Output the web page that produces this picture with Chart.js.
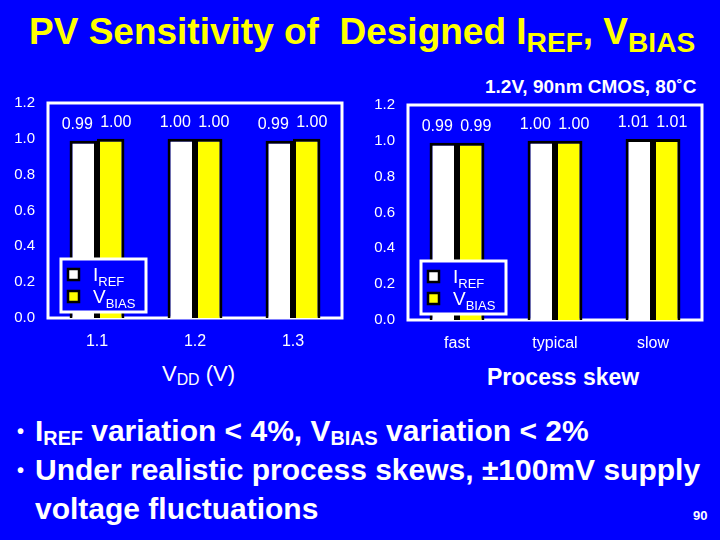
<!DOCTYPE html>
<html>
<head>
<meta charset="utf-8">
<script src="https://cdn.jsdelivr.net/npm/chart.js@4.4.1/dist/chart.umd.min.js"></script>
<style>
  body { margin: 0; width: 720px; height: 540px; background: #0000ff; overflow: hidden; position: relative;
         font-family: 'Liberation Sans', Arial, sans-serif; }
  .abs { position: absolute; white-space: nowrap; line-height: 1; }
  .sub { position: relative; }
  #title { left: 29px; top: 13px; font-size: 37px; font-weight: bold; color: #ffff00; }
  #title .sub { font-size: 0.76em; top: 0.28em; }
  #cond { left: 485px; top: 77px; font-size: 19px; font-weight: bold; color: #fff; }
  #xl1 { left: 162px; top: 363px; font-size: 22px; color: #fff; }
  #xl1 .sub { font-size: 0.72em; top: 0.25em; }
  #xl2 { left: 487px; top: 366px; font-size: 23px; font-weight: bold; color: #fff; }
  .bl { left: 35px; font-size: 30px; font-weight: bold; color: #fff; }
  .bl .sub { font-size: 0.66em; top: 0.22em; }
  .dot { left: 17px; font-size: 20px; font-weight: bold; color: #fff; }
  #page { left: 693px; top: 509px; font-size: 13px; font-weight: bold; color: #fff; }
  .wrap { position: absolute; width: 360px; height: 279px; }
</style>
</head>
<body>
<div id="title" class="abs">PV Sensitivity of&nbsp; Designed I<span class="sub">REF</span>, V<span class="sub">BIAS</span></div>
<div id="cond" class="abs">1.2V, 90nm CMOS, 80˚C</div>
<div class="wrap" style="left:0;top:81px"><canvas id="vddChart" width="360" height="279"></canvas></div>
<div class="wrap" style="left:360px;top:83px"><canvas id="skewChart" width="360" height="279"></canvas></div>
<div id="xl1" class="abs">V<span class="sub">DD</span> (V)</div>
<div id="xl2" class="abs">Process skew</div>
<div class="abs dot" style="top:421px">•</div>
<div class="abs bl" style="top:416px">I<span class="sub">REF</span> variation &lt; 4%, V<span class="sub">BIAS</span> variation &lt; 2%</div>
<div class="abs dot" style="top:460px">•</div>
<div class="abs bl" style="top:455px">Under realistic process skews, ±100mV supply</div>
<div class="abs bl" style="top:494px">voltage fluctuations</div>
<div id="page" class="abs">90</div>

<script>
// supply voltage sweep (left) and process corners (right), normalised
const vddLabels = ['1.1', '1.2', '1.3'];
const vddIref = [0.99, 1.00, 0.99];
const vddVbias = [1.00, 1.00, 1.00];

const skewLabels = ['fast', 'typical', 'slow'];
const skewIref = [0.99, 1.00, 1.01];
const skewVbias = [0.99, 1.00, 1.01];

const FONT = "'Liberation Sans', Arial, sans-serif";

// frame, value labels and the little boxed legend
const slidePlugin = {
    id: 'slide',
    beforeDatasetsDraw: function (chart) {
        const a = chart.chartArea, ctx = chart.ctx;
        ctx.save();
        ctx.strokeStyle = '#fff';
        ctx.lineWidth = 3;
        ctx.strokeRect(a.left, a.top, a.right - a.left, a.bottom - a.top);
        ctx.restore();
    },
    afterDatasetsDraw: function (chart) {
        const a = chart.chartArea, ctx = chart.ctx;
        ctx.save();
        ctx.fillStyle = '#fff';
        ctx.textAlign = 'center';
        ctx.textBaseline = 'alphabetic';
        ctx.font = '16px ' + FONT;
        const shift = [-6, 5];   // labels sit a bit apart from each other
        chart.data.datasets.forEach(function (ds, i) {
            chart.getDatasetMeta(i).data.forEach(function (bar, j) {
                ctx.fillText(ds.data[j].toFixed(2), bar.x + shift[i], bar.y - 12);
            });
        });

        // legend box
        const bx = a.left + 13, by = a.bottom - 59;
        ctx.fillStyle = '#0000ff';
        ctx.fillRect(bx, by, 85, 53);
        ctx.strokeStyle = '#fff';
        ctx.lineWidth = 3;
        ctx.strokeRect(bx, by, 85, 53);

        chart.data.datasets.forEach(function (ds, i) {
            const cy = a.bottom - 43.5 + i * 22;
            ctx.fillStyle = ds.backgroundColor;
            ctx.strokeStyle = '#000';
            ctx.lineWidth = 2.5;
            ctx.fillRect(a.left + 20, cy - 5.5, 11, 11);
            ctx.strokeRect(a.left + 20, cy - 5.5, 11, 11);

            const parts = ds.label.split('_');
            ctx.fillStyle = '#fff';
            ctx.textAlign = 'left';
            ctx.font = '19px ' + FONT;
            const tx = a.left + 45;
            ctx.fillText(parts[0], tx, cy + 6);
            const w = ctx.measureText(parts[0]).width;
            ctx.font = '13px ' + FONT;
            ctx.fillText(parts[1], tx + w, cy + 11);
        });
        ctx.restore();
    }
};

function makeChart(id, labels, iref, vbias) {
    return new Chart(document.getElementById(id), {
        type: 'bar',
        data: {
            labels: labels,
            datasets: [
                { label: 'I_REF', data: iref, backgroundColor: '#ffffff' },
                { label: 'V_BIAS', data: vbias, backgroundColor: '#ffff00' }
            ]
        },
        options: {
            responsive: false,
            animation: false,
            layout: { padding: { top: 0, right: 18, left: 0, bottom: 0 } },
            datasets: {
                bar: {
                    borderColor: '#000',
                    borderWidth: 3,
                    categoryPercentage: 0.56,
                    barPercentage: 1.0
                }
            },
            scales: {
                x: {
                    grid: { display: false, drawTicks: false },
                    border: { display: false },
                    ticks: { color: '#fff', padding: 14, font: { size: 16, family: FONT } },
                    afterFit: function (scale) { scale.height = 42; }
                },
                y: {
                    min: 0,
                    max: 1.2,
                    grid: { display: false, drawTicks: false },
                    border: { display: false },
                    ticks: {
                        stepSize: 0.2,
                        color: '#fff',
                        padding: 13,
                        font: { size: 15, family: FONT },
                        callback: function (v) { return v.toFixed(1); }
                    },
                    afterFit: function (scale) { scale.width = 48; }
                }
            },
            plugins: {
                legend: { display: false },
                tooltip: { enabled: false }
            }
        },
        plugins: [slidePlugin]
    });
}

makeChart('vddChart', vddLabels, vddIref, vddVbias);
makeChart('skewChart', skewLabels, skewIref, skewVbias);
</script>
</body>
</html>
